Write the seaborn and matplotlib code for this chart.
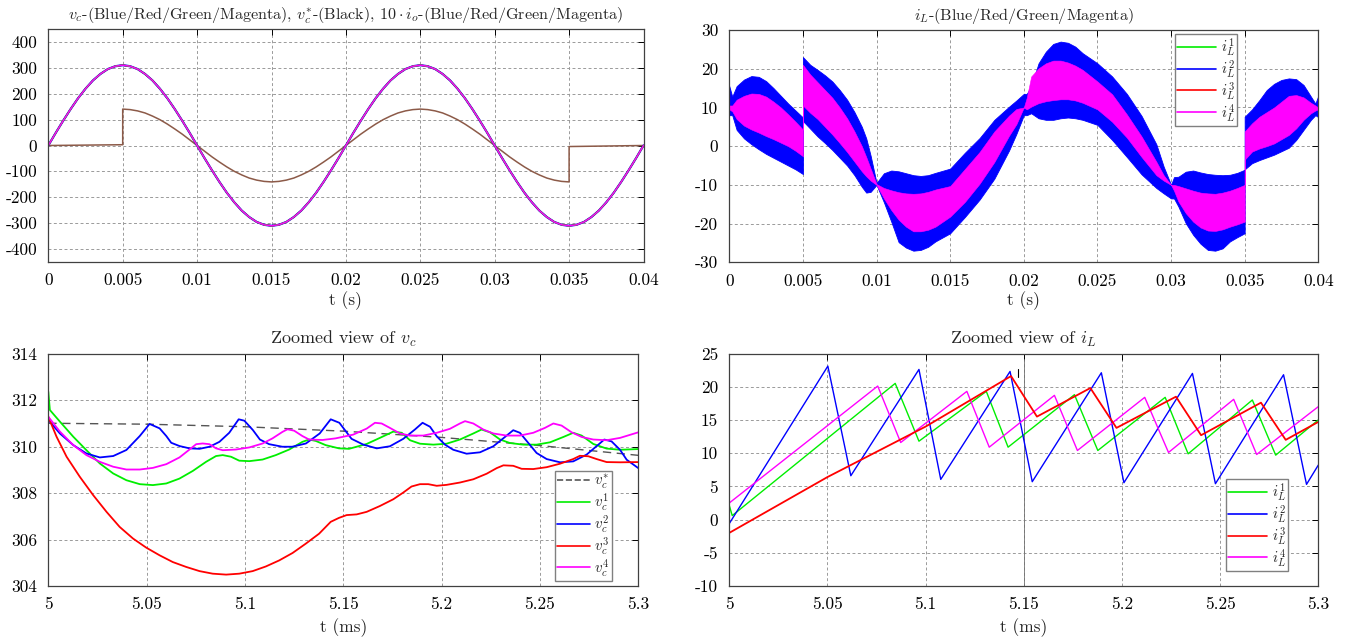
import numpy as np
import pandas as pd
import matplotlib
matplotlib.use("Agg")
import matplotlib.pyplot as plt
from matplotlib.lines import Line2D
import seaborn as sns

# ---------------------------------------------------------------- data
# Full-period waveforms (time in s)
t_vc = [0.0000, 0.0005, 0.0010, 0.0015, 0.0020, 0.0025, 0.0030, 0.0035, 0.0040, 0.0045,
        0.0050, 0.0055, 0.0060, 0.0065, 0.0070, 0.0075, 0.0080, 0.0085, 0.0090, 0.0095,
        0.0100, 0.0105, 0.0110, 0.0115, 0.0120, 0.0125, 0.0130, 0.0135, 0.0140, 0.0145,
        0.0150, 0.0155, 0.0160, 0.0165, 0.0170, 0.0175, 0.0180, 0.0185, 0.0190, 0.0195,
        0.0200, 0.0205, 0.0210, 0.0215, 0.0220, 0.0225, 0.0230, 0.0235, 0.0240, 0.0245,
        0.0250, 0.0255, 0.0260, 0.0265, 0.0270, 0.0275, 0.0280, 0.0285, 0.0290, 0.0295,
        0.0300, 0.0305, 0.0310, 0.0315, 0.0320, 0.0325, 0.0330, 0.0335, 0.0340, 0.0345,
        0.0350, 0.0355, 0.0360, 0.0365, 0.0370, 0.0375, 0.0380, 0.0385, 0.0390, 0.0395,
        0.0400]
vc_full = [0, 49, 96, 141, 183, 220, 252, 277, 296, 307,
           311, 307, 296, 277, 252, 220, 183, 141, 96, 49,
           0, -49, -96, -141, -183, -220, -252, -277, -296, -307,
           -311, -307, -296, -277, -252, -220, -183, -141, -96, -49,
           0, 49, 96, 141, 183, 220, 252, 277, 296, 307,
           311, 307, 296, 277, 252, 220, 183, 141, 96, 49,
           0, -49, -96, -141, -183, -220, -252, -277, -296, -307,
           -311, -307, -296, -277, -252, -220, -183, -141, -96, -49,
           0]

t_io = [0.0000, 0.0010, 0.0020, 0.0030, 0.0040, 0.0050,
        0.0050, 0.0055, 0.0060, 0.0065, 0.0070, 0.0075, 0.0080, 0.0085, 0.0090, 0.0095,
        0.0100, 0.0105, 0.0110, 0.0115, 0.0120, 0.0125, 0.0130, 0.0135, 0.0140, 0.0145,
        0.0150, 0.0155, 0.0160, 0.0165, 0.0170, 0.0175, 0.0180, 0.0185, 0.0190, 0.0195,
        0.0200, 0.0205, 0.0210, 0.0215, 0.0220, 0.0225, 0.0230, 0.0235, 0.0240, 0.0245,
        0.0250, 0.0255, 0.0260, 0.0265, 0.0270, 0.0275, 0.0280, 0.0285, 0.0290, 0.0295,
        0.0300, 0.0305, 0.0310, 0.0315, 0.0320, 0.0325, 0.0330, 0.0335, 0.0340, 0.0345,
        0.0350,
        0.0350, 0.0360, 0.0370, 0.0380, 0.0390, 0.0400]
io10_full = [0, 0.6, 1.2, 1.8, 2.4, 3.0,
             141, 139, 134, 126, 114, 100, 83, 64, 44, 22,
             0, -22, -44, -64, -83, -100, -114, -126, -134, -139,
             -141, -139, -134, -126, -114, -100, -83, -64, -44, -22,
             0, 22, 44, 64, 83, 100, 114, 126, 134, 139,
             141, 139, 134, 126, 114, 100, 83, 64, 44, 22,
             0, -22, -44, -64, -83, -100, -114, -126, -134, -139,
             -141,
             -4.0, -3.2, -2.4, -1.6, -0.8, 0.0]

# Switching-ripple envelopes of the inductor currents (time in s)
t_band = [0.0000, 0.0002, 0.0005, 0.0010, 0.0015, 0.0020, 0.0025, 0.0030, 0.0035, 0.0040, 0.0045, 0.0050,
          0.0050, 0.0055, 0.0060, 0.0065, 0.0070, 0.0075, 0.0080, 0.0085, 0.0090, 0.0093, 0.0096, 0.0100,
          0.0105, 0.0110, 0.0115, 0.0120, 0.0125, 0.0130, 0.0135, 0.0140, 0.0150, 0.0160, 0.0170, 0.0180,
          0.0190, 0.0195, 0.0200,
          0.0202, 0.0205, 0.0210, 0.0215, 0.0220, 0.0225, 0.0230, 0.0235, 0.0240, 0.0250, 0.0260, 0.0270,
          0.0280, 0.0290, 0.0295, 0.0300,
          0.0302, 0.0305, 0.0310, 0.0315, 0.0320, 0.0325, 0.0330, 0.0335, 0.0340, 0.0345, 0.0350,
          0.0350, 0.0355, 0.0360, 0.0365, 0.0370, 0.0375, 0.0380, 0.0385, 0.0390, 0.0395, 0.0398, 0.0400]
iL2_hi = [15.5, 12.8, 15.5, 17.2, 18.1, 17.9, 16.8, 15.0, 13.0, 11.0, 9.2, 7.4,
          23.0, 21.0, 19.7, 18.3, 16.7, 14.5, 12.0, 8.8, 5.0, 2.0, -2.5, -9.5,
          -7.0, -6.3, -6.5, -7.0, -7.5, -7.7, -7.5, -6.9, -5.8, -1.7, 2.1, 6.8,
          10.2, 11.8, 13.5,
          13.5, 15.4, 21.4, 24.4, 26.4, 27.0, 26.7, 25.7, 24.0, 21.4, 18.0, 13.5,
          7.8, 0.5, -5.3, -10.0,
          -8.0, -7.9, -6.6, -6.3, -6.8, -7.2, -7.4, -7.5, -7.4, -6.9, -6.1,
          7.6, 9.5, 11.9, 14.5, 16.1, 17.1, 17.5, 17.3, 15.8, 12.8, 11.0, 13.0]
iL4_hi = [10.5, 10.5, 12.0, 13.0, 13.6, 13.5, 12.8, 11.5, 10.0, 8.2, 6.3, 4.3,
          21.0, 18.5, 16.5, 14.5, 12.5, 10.0, 7.2, 3.8, 0.0, -2.8, -5.8, -9.8,
          -10.8, -11.4, -11.9, -12.2, -12.3, -12.2, -11.8, -11.2, -10.3, -5.9, -1.5, 3.8,
          7.9, 9.6, 10.0,
          12.5, 18.0, 20.1, 21.4, 22.1, 22.1, 21.6, 20.8, 19.7, 16.7, 13.4, 8.2,
          2.5, -4.0, -7.5, -10.0,
          -10.0, -10.3, -10.9, -11.5, -12.0, -12.2, -12.3, -12.0, -11.5, -10.8, -10.0,
          3.8, 5.9, 7.6, 8.8, 10.0, 11.5, 13.0, 13.2, 12.6, 11.2, 10.5, 10.0]
iL4_lo = [9.5, 9.0, 7.0, 5.3, 4.3, 3.5, 2.6, 1.8, 0.9, 0.0, -1.2, -2.6,
          10.5, 8.6, 7.0, 5.0, 3.0, 0.8, -1.5, -4.0, -6.5, -7.8, -8.9, -10.0,
          -13.5, -16.5, -19.0, -20.8, -22.0, -22.0, -21.6, -20.8, -18.2, -14.4, -9.7, -4.1,
          2.7, 5.7, 10.0,
          9.5, 10.2, 11.1, 11.6, 11.9, 12.1, 12.1, 11.8, 11.2, 9.5, 6.3, 2.2,
          -2.8, -7.5, -8.9, -10.0,
          -11.5, -14.3, -17.3, -19.5, -21.0, -21.8, -21.9, -21.5, -20.8, -20.2, -19.5,
          -3.5, -1.4, -0.6, 0.0, 0.7, 1.8, 2.9, 4.6, 6.8, 8.5, 9.2, 9.5]
iL2_lo = [8.0, 8.0, 4.2, 2.0, 0.5, -0.8, -2.0, -3.0, -4.0, -5.0, -6.0, -7.2,
          6.5, 4.5, 2.5, 0.8, -1.0, -3.0, -5.0, -7.5, -10.5, -12.0, -11.8, -10.0,
          -14.5, -19.5, -24.8, -26.2, -27.0, -26.8, -26.0, -24.6, -22.5, -18.3, -13.8, -8.4,
          -1.1, 3.2, 8.0,
          8.0, 8.5, 7.2, 6.8, 6.8, 7.2, 7.4, 7.2, 6.8, 5.5, 1.6, -2.8,
          -7.3, -10.8, -12.2, -13.5,
          -13.5, -15.6, -19.9, -22.9, -25.2, -26.8, -27.0, -26.4, -24.6, -23.5, -22.5,
          -6.0, -4.4, -3.6, -2.9, -2.2, -1.3, -0.4, 1.6, 4.2, 6.8, 8.0, 7.5]

# Zoomed capacitor voltages (time in ms)
t_ref = [5.00, 5.05, 5.10, 5.15, 5.20, 5.25, 5.30]
vc_ref = [311.0, 310.96, 310.85, 310.66, 310.39, 310.04, 309.62]

t_vc1 = [5.0, 5.0008, 5.0059, 5.0127, 5.0194, 5.0262, 5.033, 5.0397, 5.0465, 5.0532, 5.06,
         5.0667, 5.0735, 5.0802, 5.0853, 5.0887, 5.0929, 5.0971, 5.1022, 5.109, 5.1157,
         5.1225, 5.1292, 5.1326, 5.136, 5.141, 5.1478, 5.1529, 5.1619, 5.1686, 5.1754,
         5.1797, 5.1839, 5.189, 5.1958, 5.2025, 5.2093, 5.2161, 5.2203, 5.2246, 5.2297,
         5.2347, 5.2415, 5.2483, 5.2551, 5.2619, 5.2669, 5.2712, 5.2771, 5.2839, 5.2907, 5.3]
vc1 = [312.36, 311.57, 311.07, 310.42, 309.84, 309.27, 308.84, 308.55, 308.38, 308.34, 308.41,
       308.62, 308.95, 309.34, 309.59, 309.63, 309.56, 309.39, 309.37, 309.44, 309.63,
       309.87, 310.20, 310.30, 310.24, 310.06, 309.92, 309.90, 310.11, 310.37, 310.64,
       310.59, 310.27, 310.12, 310.08, 310.12, 310.30, 310.56, 310.73, 310.61, 310.30,
       310.15, 310.08, 310.08, 310.18, 310.41, 310.59, 310.47, 310.11, 309.91, 309.86, 309.89]

t_vc2 = [5.0, 5.0059, 5.0127, 5.0194, 5.0262, 5.033, 5.0397, 5.0465, 5.0515, 5.0566, 5.06,
         5.0625, 5.0667, 5.0718, 5.0769, 5.082, 5.087, 5.092, 5.0968, 5.0997, 5.104,
         5.1076, 5.1123, 5.119, 5.124, 5.131, 5.138, 5.1436, 5.148, 5.1542, 5.1602,
         5.167, 5.1737, 5.1805, 5.1864, 5.1903, 5.1941, 5.1975, 5.2017, 5.2059, 5.2127,
         5.2195, 5.2263, 5.2322, 5.2364, 5.2398, 5.2441, 5.2483, 5.2534, 5.2602, 5.2669,
         5.2737, 5.2797, 5.2827, 5.2864, 5.2907, 5.2941, 5.3]
vc2 = [311.14, 310.56, 310.06, 309.70, 309.53, 309.59, 309.85, 310.45, 310.97, 310.78, 310.45,
       310.16, 310.02, 309.92, 309.90, 309.99, 310.20, 310.59, 311.17, 311.11, 310.71,
       310.30, 310.10, 309.99, 309.99, 310.13, 310.56, 311.17, 311.02, 310.33, 310.08,
       309.92, 310.01, 310.33, 310.73, 311.02, 310.85, 310.44, 310.08, 309.86, 309.69,
       309.75, 310.01, 310.41, 310.70, 310.59, 310.15, 309.72, 309.46, 309.32, 309.36,
       309.65, 310.08, 310.30, 310.22, 309.86, 309.43, 309.07]

t_vc3 = [5.0, 5.0042, 5.0093, 5.016, 5.0228, 5.0296, 5.0363, 5.0431, 5.0498, 5.0566, 5.0633,
         5.0701, 5.0769, 5.0836, 5.0904, 5.0971, 5.1039, 5.1106, 5.1174, 5.1242, 5.1309,
         5.1377, 5.1436, 5.1478, 5.1517, 5.1568, 5.1619, 5.1686, 5.1754, 5.1805, 5.1847,
         5.189, 5.1932, 5.1975, 5.2025, 5.2093, 5.2161, 5.2229, 5.228, 5.2314, 5.2364,
         5.2407, 5.2466, 5.2534, 5.2602, 5.2669, 5.2703, 5.2746, 5.2788, 5.2839, 5.2907, 5.3]
vc3 = [311.28, 310.42, 309.56, 308.70, 307.91, 307.19, 306.54, 306.04, 305.65, 305.32, 305.03,
       304.82, 304.64, 304.53, 304.49, 304.53, 304.64, 304.84, 305.10, 305.42, 305.82,
       306.25, 306.76, 306.93, 307.05, 307.08, 307.19, 307.44, 307.73, 308.02, 308.28,
       308.38, 308.38, 308.31, 308.35, 308.45, 308.59, 308.83, 309.07, 309.19, 309.17,
       309.04, 309.03, 309.11, 309.26, 309.46, 309.60, 309.58, 309.46, 309.33, 309.32, 309.33]

t_vc4 = [5.0, 5.0059, 5.0127, 5.0194, 5.0262, 5.033, 5.0397, 5.0465, 5.0532, 5.06, 5.0667,
         5.0718, 5.0752, 5.0785, 5.0819, 5.0853, 5.0887, 5.0954, 5.1022, 5.109, 5.114,
         5.1191, 5.1216, 5.125, 5.1292, 5.1326, 5.1394, 5.1461, 5.155, 5.1619, 5.1661,
         5.1695, 5.1737, 5.1788, 5.1839, 5.1907, 5.1975, 5.2042, 5.2093, 5.2119, 5.2161,
         5.2212, 5.2263, 5.2331, 5.2398, 5.2466, 5.2525, 5.2568, 5.261, 5.2661, 5.2712,
         5.2771, 5.2839, 5.2907, 5.3]
vc4 = [311.28, 310.64, 310.06, 309.63, 309.34, 309.13, 309.01, 309.01, 309.08, 309.24, 309.53,
       309.87, 310.10, 310.13, 310.10, 309.92, 309.84, 309.87, 309.96, 310.13, 310.35,
       310.63, 310.74, 310.68, 310.45, 310.30, 310.28, 310.35, 310.51, 310.77, 311.02,
       310.99, 310.80, 310.56, 310.47, 310.47, 310.59, 310.76, 310.99, 311.09, 310.99,
       310.73, 310.56, 310.47, 310.47, 310.59, 310.80, 310.99, 310.90, 310.61, 310.41,
       310.30, 310.27, 310.37, 310.61]

# Zoomed inductor currents (time in ms)
t_iL1 = [5.0, 5.0015, 5.0845, 5.0966, 5.1309, 5.142, 5.1758, 5.1877, 5.222, 5.2337, 5.2664, 5.2783, 5.3]
iL1 = [2.1, 0.6, 20.5, 11.8, 19.3, 10.9, 18.8, 10.4, 18.4, 9.9, 18.0, 9.7, 15.0]
t_iL2 = [5.0, 5.0502, 5.0619, 5.0966, 5.1077, 5.143, 5.1543, 5.1895, 5.201, 5.2359, 5.2476, 5.2823, 5.294, 5.3]
iL2 = [-0.6, 23.1, 6.6, 22.6, 6.05, 22.3, 5.7, 22.1, 5.55, 22.0, 5.4, 21.8, 5.3, 8.2]
t_iL3 = [5.0, 5.05, 5.1, 5.1435, 5.1567, 5.1839, 5.1972, 5.2275, 5.2403, 5.2708, 5.2834, 5.3]
iL3 = [-2.0, 6.4, 14.0, 21.6, 15.5, 19.8, 13.8, 18.5, 12.7, 17.6, 12.0, 14.7]
t_iL4 = [5.0, 5.0756, 5.0873, 5.121, 5.1324, 5.1656, 5.1773, 5.2116, 5.2237, 5.2569, 5.2686, 5.3]
iL4 = [2.5, 20.1, 11.6, 19.3, 10.9, 18.7, 10.4, 18.4, 10.1, 18.1, 9.8, 17.0]
t_mark = [5.147, 5.147]
mark = [21.4, 22.6]
t_event = [5.15, 5.15]
event = [-10.0, 24.1]

# Axis ticks
full_xticks = [0, 0.005, 0.01, 0.015, 0.02, 0.025, 0.03, 0.035, 0.04]
full_xlabels = ["0", "0.005", "0.01", "0.015", "0.02", "0.025", "0.03", "0.035", "0.04"]
vc_yticks = [-400, -300, -200, -100, 0, 100, 200, 300, 400]
iL_yticks = [-30, -20, -10, 0, 10, 20, 30]
zoom_xticks = [5, 5.05, 5.1, 5.15, 5.2, 5.25, 5.3]
zoom_xlabels = ["5", "5.05", "5.1", "5.15", "5.2", "5.25", "5.3"]
zvc_yticks = [304, 306, 308, 310, 312, 314]
ziL_yticks = [-10, -5, 0, 5, 10, 15, 20, 25]

# ---------------------------------------------------------------- style
sns.set_theme(style="white")
plt.rcParams.update({
    "font.family": "serif",
    "font.serif": ["cmr10"],
    "mathtext.fontset": "cm",
    "axes.unicode_minus": False,
    "axes.formatter.use_mathtext": True,
})

BLUE, RED, GREEN, MAG = "#0000ff", "#ff0000", "#00ee00", "#ff00ff"
TICK_FS = 12.5
TOP_TITLE_FS = 11.6
ZOOM_TITLE_FS = 13

fig = plt.figure(figsize=(13.61, 6.43), dpi=100)
W, H = 1361, 643


def place(left, top, right, bottom):
    return fig.add_axes([left / W, 1 - bottom / H, (right - left) / W, (bottom - top) / H])


def style(ax, xticks, xlabels, yticks, xlim, ylim):
    ax.set_xlim(*xlim)
    ax.set_ylim(*ylim)
    ax.set_xticks(xticks)
    ax.set_xticklabels(xlabels)
    ax.set_yticks(yticks)
    ax.set_yticklabels([f"{v:g}" for v in yticks])
    ax.grid(True, color="#9a9a9a", linestyle=(0, (3, 2.5)), linewidth=0.7)
    ax.set_axisbelow(True)
    ax.tick_params(direction="in", top=True, right=True, length=4, width=0.7,
                   labelsize=TICK_FS, pad=8, colors="black")
    for s in ax.spines.values():
        s.set_color("#404040")
        s.set_linewidth(0.9)
    ax.set_facecolor("white")


def line(ax, x, y, **kw):
    sns.lineplot(x=x, y=y, ax=ax, estimator=None, sort=False, legend=False, **kw)


def legend(ax, items, anchor, loc, hlen):
    handles = [Line2D([], [], color=c, lw=1.2, ls=ls) for c, ls, _ in items]
    labels = [lab for _, _, lab in items]
    lg = ax.legend(handles, labels, loc=loc, bbox_to_anchor=anchor, borderaxespad=0,
                   fontsize=10.8, handlelength=hlen, handletextpad=0.3, labelspacing=0.0,
                   borderpad=0.15, fancybox=False, framealpha=1, edgecolor="#808080")
    lg.get_frame().set_linewidth(1.0)


# ---- top left: full-period voltages and scaled output currents
ax1 = place(48.3, 29.3, 643.5, 261.7)
style(ax1, full_xticks, full_xlabels, vc_yticks, (0, 0.04), (-450, 450))
line(ax1, t_io, io10_full, color="#8c5a48", lw=1.1)
line(ax1, t_vc, vc_full, color=BLUE, lw=1.6)
line(ax1, t_vc, vc_full, color=RED, lw=1.0)
line(ax1, t_vc, vc_full, color=GREEN, lw=1.0)
line(ax1, t_vc, vc_full, color=MAG, lw=1.0)
ax1.set_title(r"$v_c$-(Blue/Red/Green/Magenta), $v_c^{*}$-(Black), $10\cdot i_o$-(Blue/Red/Green/Magenta)",
              fontsize=TOP_TITLE_FS, pad=7)
ax1.set_xlabel("t (s)", fontsize=TICK_FS, labelpad=2)

# ---- top right: inductor currents with switching ripple
ax2 = place(729.3, 30.0, 1318.3, 262.3)
style(ax2, full_xticks, full_xlabels, iL_yticks, (0, 0.04), (-30, 30))
ax2.fill_between(t_band, iL2_lo, iL2_hi, color=BLUE, lw=0.6, edgecolor=BLUE)
ax2.fill_between(t_band, iL4_lo, iL4_hi, color=MAG, lw=0.4, edgecolor=MAG)
ax2.set_title(r"$i_L$-(Blue/Red/Green/Magenta)", fontsize=TOP_TITLE_FS, pad=7)
ax2.set_xlabel("t (s)", fontsize=TICK_FS, labelpad=2)
legend(ax2, [(GREEN, "-", r"$i_L^1$"), (BLUE, "-", r"$i_L^2$"),
             (RED, "-", r"$i_L^3$"), (MAG, "-", r"$i_L^4$")], (0.862, 0.983), "upper right", 2.6)

# ---- bottom left: zoomed capacitor voltages
ax3 = place(48.3, 353.5, 638.3, 586.0)
style(ax3, zoom_xticks, zoom_xlabels, zvc_yticks, (5, 5.3), (304, 314))
line(ax3, t_ref, vc_ref, color="#555555", lw=1.0, dashes=(6, 4))
line(ax3, t_vc1, vc1, color=GREEN, lw=1.3)
line(ax3, t_vc2, vc2, color=BLUE, lw=1.3)
line(ax3, t_vc3, vc3, color=RED, lw=1.3)
line(ax3, t_vc4, vc4, color=MAG, lw=1.3)
ax3.set_title(r"Zoomed view of $v_c$", fontsize=ZOOM_TITLE_FS, pad=7)
ax3.set_xlabel("t (ms)", fontsize=TICK_FS, labelpad=4)
legend(ax3, [("#555555", "--", r"$v_c^{*}$"), (GREEN, "-", r"$v_c^1$"), (BLUE, "-", r"$v_c^2$"),
             (RED, "-", r"$v_c^3$"), (MAG, "-", r"$v_c^4$")], (0.955, 0.0215), "lower right", 2.2)

# ---- bottom right: zoomed inductor currents
ax4 = place(729.3, 353.5, 1318.3, 586.0)
style(ax4, zoom_xticks, zoom_xlabels, ziL_yticks, (5, 5.3), (-10, 25))
line(ax4, t_event, event, color="#707070", lw=0.6)
line(ax4, t_iL1, iL1, color=GREEN, lw=1.0)
line(ax4, t_iL2, iL2, color=BLUE, lw=1.0)
line(ax4, t_iL4, iL4, color=MAG, lw=1.0)
line(ax4, t_iL3, iL3, color=RED, lw=1.3)
line(ax4, t_mark, mark, color="black", lw=0.8)
ax4.set_title(r"Zoomed view of $i_L$", fontsize=ZOOM_TITLE_FS, pad=7)
ax4.set_xlabel("t (ms)", fontsize=TICK_FS, labelpad=4)
legend(ax4, [(GREEN, "-", r"$i_L^1$"), (BLUE, "-", r"$i_L^2$"),
             (RED, "-", r"$i_L^3$"), (MAG, "-", r"$i_L^4$")], (0.9486, 0.0645), "lower right", 2.6)

fig.savefig("out.png", dpi=100, facecolor="white")
